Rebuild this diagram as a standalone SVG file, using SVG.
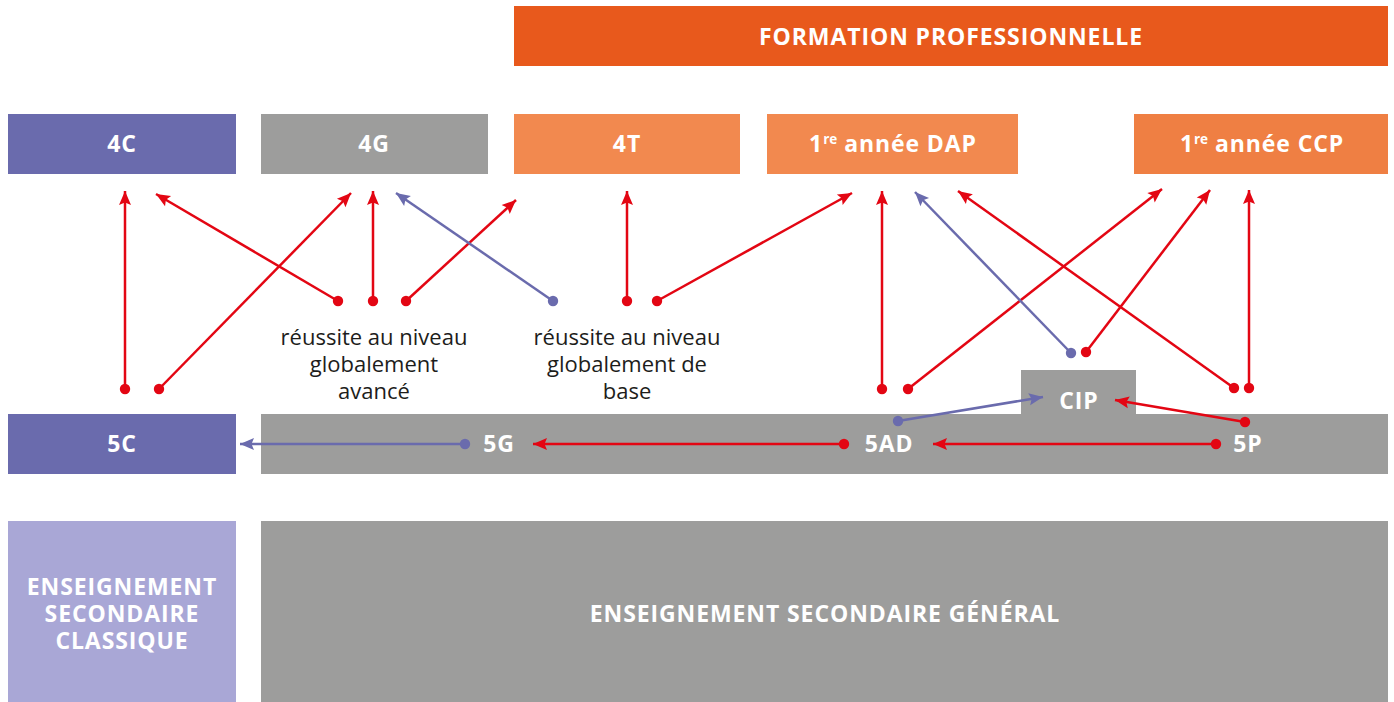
<svg xmlns="http://www.w3.org/2000/svg" width="1394" height="702" viewBox="0 0 1394 702">
<defs>
<style>
.lbl{font-family:"Open Sans","Noto Sans","DejaVu Sans",sans-serif;font-weight:700;font-size:23px;letter-spacing:0.9px;fill:#fff;text-anchor:middle}
.note{font-family:"Open Sans","Noto Sans","DejaVu Sans",sans-serif;font-weight:400;font-size:22px;fill:#1d1d1b;text-anchor:middle}
.r{stroke:#e30613;stroke-width:2.5;fill:none;marker-end:url(#ar);marker-start:url(#dr)}
.p{stroke:#6a6bad;stroke-width:2.5;fill:none;marker-end:url(#ap);marker-start:url(#dp)}
</style>
<marker id="ar" markerUnits="userSpaceOnUse" markerWidth="16" markerHeight="14" refX="14" refY="6" orient="auto" overflow="visible"><path d="M0,0 L14,6 L0,12 L2.5,6 z" fill="#e30613"/></marker>
<marker id="ap" markerUnits="userSpaceOnUse" markerWidth="16" markerHeight="14" refX="14" refY="6" orient="auto" overflow="visible"><path d="M0,0 L14,6 L0,12 L2.5,6 z" fill="#6a6bad"/></marker>
<marker id="dr" markerUnits="userSpaceOnUse" markerWidth="12" markerHeight="12" refX="6" refY="6" overflow="visible"><circle cx="6" cy="6" r="5.2" fill="#e30613"/></marker>
<marker id="dp" markerUnits="userSpaceOnUse" markerWidth="12" markerHeight="12" refX="6" refY="6" overflow="visible"><circle cx="6" cy="6" r="5.2" fill="#6a6bad"/></marker>
</defs>
<rect width="1394" height="702" fill="#fff"/>
<g id="formation-pro"><rect x="514" y="6" width="874" height="60" fill="#e8591c"/><text class="lbl" x="951" y="45">FORMATION PROFESSIONNELLE</text></g>
<g id="n4C"><rect x="8" y="114" width="228" height="60" fill="#6a6bad"/><text class="lbl" x="122" y="152">4C</text></g>
<g id="n4G"><rect x="261" y="114" width="227" height="60" fill="#9d9d9c"/><text class="lbl" x="374" y="152">4G</text></g>
<g id="n4T"><rect x="514" y="114" width="226" height="60" fill="#f2894f"/><text class="lbl" x="627" y="152">4T</text></g>
<g id="nDAP"><rect x="767" y="114" width="251" height="60" fill="#f2894f"/><text class="lbl" x="893" y="152">1<tspan font-size="13.5" dy="-8.5" letter-spacing="0">re</tspan><tspan dy="8.5"> année DAP</tspan></text></g>
<g id="nCCP"><rect x="1134" y="114" width="254" height="60" fill="#ef7f43"/><text class="lbl" x="1262" y="152">1<tspan font-size="13.5" dy="-8.5" letter-spacing="0">re</tspan><tspan dy="8.5"> année CCP</tspan></text></g>
<g id="n5C"><rect x="8" y="414" width="228" height="60" fill="#6a6bad"/><text class="lbl" x="122" y="452">5C</text></g>
<g id="band5"><rect x="261" y="414" width="1127" height="60" fill="#9d9d9c"/></g>
<g id="nCIP"><rect x="1021" y="370" width="115" height="44" fill="#9d9d9c"/><text class="lbl" x="1079" y="409">CIP</text></g>
<g id="n5G"><text class="lbl" x="499" y="452">5G</text></g>
<g id="n5AD"><text class="lbl" x="889" y="452">5AD</text></g>
<g id="n5P"><text class="lbl" x="1248" y="452">5P</text></g>
<g id="esc"><rect x="8" y="521" width="228" height="181" fill="#a9a7d6"/><text class="lbl" x="122" y="595">ENSEIGNEMENT</text><text class="lbl" x="122" y="622">SECONDAIRE</text><text class="lbl" x="122" y="649">CLASSIQUE</text></g>
<g id="esg"><rect x="261" y="521" width="1127" height="181" fill="#9d9d9c"/><text class="lbl" x="825" y="622">ENSEIGNEMENT SECONDAIRE GÉNÉRAL</text></g>
<g id="note-avance"><text class="note" x="374" y="345">réussite au niveau</text><text class="note" x="374" y="372">globalement</text><text class="note" x="374" y="399">avancé</text></g>
<g id="note-base"><text class="note" x="627" y="345">réussite au niveau</text><text class="note" x="627" y="372">globalement de</text><text class="note" x="627" y="399">base</text></g>
<g id="connectors">
<line class="r" x1="125" y1="389" x2="125" y2="191"/>
<line class="r" x1="159" y1="389" x2="351" y2="193"/>
<line class="r" x1="338" y1="301" x2="156" y2="194"/>
<line class="r" x1="373" y1="301" x2="373" y2="191"/>
<line class="r" x1="406" y1="301" x2="516" y2="200"/>
<line class="p" x1="553" y1="301" x2="396" y2="193"/>
<line class="r" x1="627" y1="301" x2="627" y2="191"/>
<line class="r" x1="657" y1="301" x2="852" y2="193"/>
<line class="r" x1="882" y1="389" x2="882" y2="191"/>
<line class="r" x1="908" y1="389" x2="1162" y2="189"/>
<line class="p" x1="1071" y1="353" x2="915" y2="192"/>
<line class="r" x1="1086" y1="352" x2="1210" y2="190"/>
<line class="r" x1="1234" y1="388" x2="958" y2="191"/>
<line class="r" x1="1249" y1="388" x2="1249" y2="190"/>
<line class="p" x1="898" y1="421" x2="1043" y2="397"/>
<line class="r" x1="1245" y1="422" x2="1115" y2="400"/>
<line class="r" x1="1216" y1="444" x2="933" y2="444"/>
<line class="r" x1="844" y1="444" x2="533" y2="444"/>
<line class="p" x1="465" y1="444" x2="240" y2="444"/>
</g>
</svg>
